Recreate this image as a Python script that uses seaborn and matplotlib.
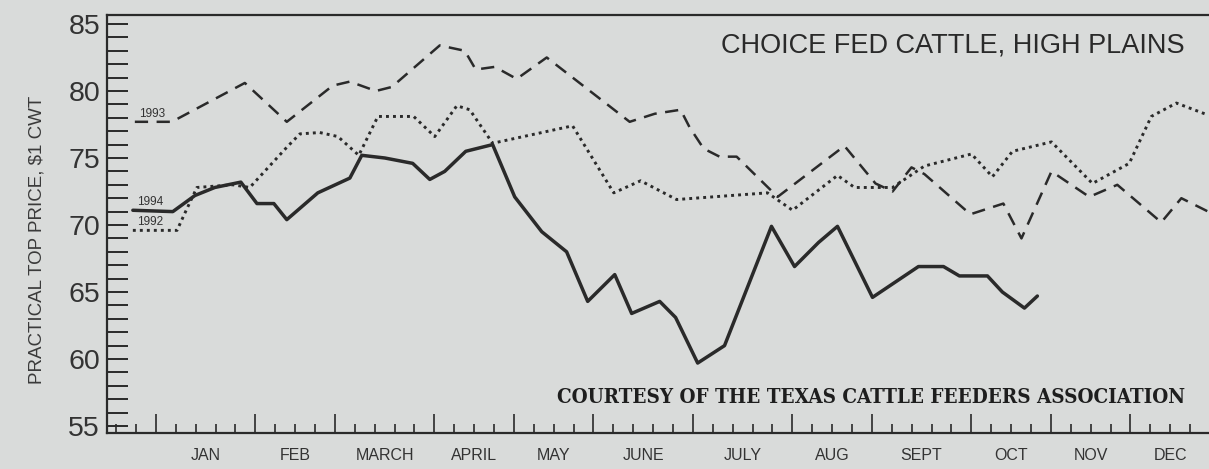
import pandas as pd
import matplotlib
matplotlib.use("Agg")
import matplotlib.pyplot as plt
import seaborn as sns
from matplotlib.ticker import MultipleLocator, FixedLocator
import matplotlib.transforms as mtransforms

# x is counted in weeks from the first week of January
weeks_1994 = [-1.16, 0.85, 1.96, 2.96, 4.27, 5.08, 5.93, 6.58, 8.14, 9.75, 10.35, 11.51,
              12.91, 13.77, 14.52, 15.58, 16.93, 18.04, 19.40, 20.65, 21.71, 23.07,
              23.92, 25.33, 26.13, 27.24, 28.59, 30.95, 32.11, 33.32, 34.27, 36.03,
              38.34, 39.60, 40.40, 41.81, 42.56, 43.67, 44.32]
price_1994 = [71.1, 71.0, 72.2, 72.8, 73.2, 71.6, 71.6, 70.4, 72.4, 73.5, 75.2, 75.0,
              74.6, 73.4, 74.0, 75.5, 76.0, 72.1, 69.5, 68.0, 64.3, 66.3,
              63.4, 64.3, 63.1, 59.7, 61.0, 69.9, 66.9, 68.7, 69.9, 64.6,
              66.9, 66.9, 66.2, 66.2, 65.0, 63.8, 64.7]

weeks_1993 = [-1.06, 0.80, 4.47, 6.58, 8.89, 9.75, 11.06, 11.86, 14.27, 15.53, 16.08,
              17.04, 18.14, 19.65, 23.82, 25.08, 26.38, 26.83, 27.54, 28.34, 29.20,
              31.26, 34.62, 36.18, 37.04, 37.99, 38.64, 40.95, 42.61, 43.52, 45.03,
              46.93, 48.34, 50.55, 51.56, 52.91]
price_1993 = [77.7, 77.7, 80.6, 77.7, 80.4, 80.7, 80.0, 80.3, 83.4, 83.0, 81.6,
              81.8, 80.9, 82.5, 77.7, 78.3, 78.6, 77.3, 75.7, 75.1, 75.1,
              72.1, 75.9, 73.1, 72.5, 74.3, 73.8, 70.8, 71.6, 69.0, 74.0,
              72.1, 73.0, 70.2, 72.0, 71.0]

weeks_1992 = [-1.16, 1.06, 1.46, 2.06, 3.87, 4.72, 6.58, 7.24, 8.24, 9.15, 10.20,
              11.16, 12.96, 14.02, 15.13, 15.78, 16.93, 20.95, 23.02, 24.37, 26.18,
              30.75, 32.01, 34.27, 35.13, 37.04, 38.64, 41.01, 42.06, 43.07, 45.03,
              47.09, 48.94, 50.05, 51.31, 52.91]
price_1992 = [69.6, 69.6, 70.9, 72.8, 73.0, 72.8, 75.8, 76.8, 76.9, 76.6, 75.2,
              78.1, 78.1, 76.6, 78.9, 78.6, 76.1, 77.4, 72.4, 73.3, 71.9,
              72.4, 71.1, 73.7, 72.8, 72.8, 74.4, 75.3, 73.6, 75.5, 76.2,
              73.1, 74.6, 78.1, 79.1, 78.2]

months = ["JAN", "FEB", "MARCH", "APRIL", "MAY", "JUNE",
          "JULY", "AUG", "SEPT", "OCT", "NOV", "DEC"]
month_starts = [0, 5, 9, 14, 18, 22, 27, 32, 36, 41, 45, 49]
year_end = 53

df = pd.concat([
    pd.DataFrame({"week": weeks_1992, "price": price_1992, "year": "1992"}),
    pd.DataFrame({"week": weeks_1993, "price": price_1993, "year": "1993"}),
    pd.DataFrame({"week": weeks_1994, "price": price_1994, "year": "1994"}),
])

sns.set_theme(style="ticks")
plt.rcParams["font.family"] = ["Liberation Sans", "DejaVu Sans"]

paper = "#d9dbda"
ink = "#2a2a2a"

fig = plt.figure(figsize=(12.09, 4.69), dpi=100, facecolor=paper)
ax = fig.add_axes([107 / 1209, 36 / 469, 1102 / 1209, 418 / 469])
ax.set_facecolor(paper)

sns.lineplot(data=df, x="week", y="price", style="year", size="year",
             dashes={"1992": (1, 1.4), "1993": (5.3, 3.4), "1994": ""},
             sizes={"1992": 2.1, "1993": 1.8, "1994": 2.5},
             color=ink, estimator=None, sort=False, legend=False, ax=ax)

ax.set_xlim(-2.46, 52.95)
ax.set_ylim(54.48, 85.67)

# axes frame
for side in ["left", "bottom", "top"]:
    ax.spines[side].set_color(ink)
    ax.spines[side].set_linewidth(1.6)
ax.spines["right"].set_visible(False)

# y ticks: every dollar, labels every five
ax.yaxis.set_major_locator(MultipleLocator(5))
ax.yaxis.set_minor_locator(MultipleLocator(1))
ax.tick_params(axis="y", which="both", direction="in", length=15, width=1.4,
               color=ink, labelsize=20.5, labelcolor="#333333", pad=5)

# x ticks: long at month starts, short every week
ax.xaxis.set_major_locator(FixedLocator(month_starts))
ax.xaxis.set_minor_locator(MultipleLocator(1))
ax.tick_params(axis="x", which="major", direction="in", length=14, width=1.2,
               color=ink, labelbottom=False)
ax.tick_params(axis="x", which="minor", direction="in", length=6.5, width=1.2,
               color=ink)
ax.set_xlabel("")
ax.set_ylabel("")

# month names centred in each month
trans = mtransforms.blended_transform_factory(ax.transData, ax.transAxes)
ends = month_starts[1:] + [year_end]
for name, a, b in zip(months, month_starts, ends):
    ax.text((a + b) / 2, -0.053, name, transform=trans, ha="center", va="center",
            fontsize=11.5, color="#333333")

fig.text(0.031, 0.488, "PRACTICAL TOP PRICE, $1 CWT", rotation=90,
         ha="center", va="center", fontsize=13.5, color="#3a3a3a")

ax.text(0.978, 0.926, "CHOICE FED CATTLE, HIGH PLAINS", transform=ax.transAxes,
        ha="right", va="center", fontsize=19.5, color="#2a2a2a")

ax.text(0.978, 0.086, "COURTESY OF THE TEXAS CATTLE FEEDERS ASSOCIATION",
        transform=ax.transAxes, ha="right", va="center", fontsize=14.8,
        family=["DejaVu Serif"], fontstretch="condensed", fontweight="bold",
        color="#1e1e1e")

# small year tags sitting on the start of each line
tags = [("1993", weeks_1993[0], price_1993[0], 0.55),
        ("1994", weeks_1994[0], price_1994[0], 0.65),
        ("1992", weeks_1992[0], price_1992[0], 0.6)]
for label, w0, p0, dy in tags:
    ax.text(w0 + 0.85, p0 + dy, label, ha="center", va="center",
            fontsize=8.5, color="#333333")

fig.savefig("out.png", dpi=100, facecolor=paper)
